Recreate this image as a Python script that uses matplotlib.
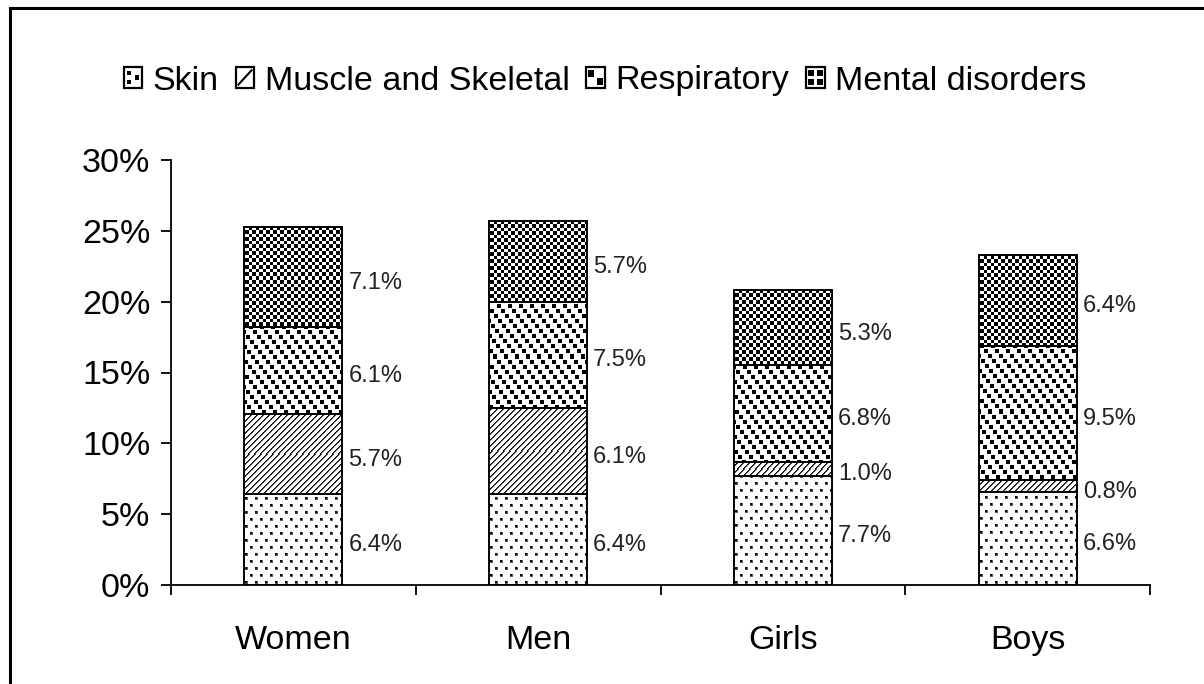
import numpy as np
import matplotlib
matplotlib.use("Agg")
import matplotlib.pyplot as plt
from matplotlib.patches import Rectangle
from matplotlib.lines import Line2D
from matplotlib.legend_handler import HandlerBase

plt.rcParams['font.family'] = ['Liberation Sans', 'DejaVu Sans']

categories = ["Women", "Men", "Girls", "Boys"]
series_names = ["Skin", "Muscle and Skeletal", "Respiratory", "Mental disorders"]
skin = [6.4, 6.4, 7.7, 6.6]
muscle = [5.7, 6.1, 1.0, 0.8]
respiratory = [6.1, 7.5, 6.8, 9.5]
mental = [7.1, 5.7, 5.3, 6.4]
series_values = [skin, muscle, respiratory, mental]
series_kinds = ["skin", "muscle", "resp", "mental"]
yticks = [0, 5, 10, 15, 20, 25, 30]
ytick_labels = ["0%", "5%", "10%", "15%", "20%", "25%", "30%"]

W_PX, H_PX = 1204, 684
fig = plt.figure(figsize=(W_PX / 100, H_PX / 100), dpi=100)
ax = fig.add_axes([171 / W_PX, 1 - 585 / H_PX, 979 / W_PX, 425 / H_PX])
ax.set_xlim(-0.5, len(categories) - 0.5)
ax.set_ylim(0, 30)


def texture(kind, gx, gy):
    gx, gy = np.meshgrid(gx, gy)
    val = np.ones(gx.shape)
    if kind == "skin":
        row = gy // 7
        xo = (gx + (row % 2) * 5) % 10
        yo = gy % 7
        val[(xo < 3) & (yo < 3)] = 0.35
        val[(xo == 1) & (yo == 1)] = 0.0
        val[(xo < 2) & (yo < 2)] = 0.05
    elif kind == "muscle":
        d = (gx + gy) % 6
        val[d == 0] = 0.0
        val[d == 1] = 0.35
    elif kind == "resp":
        band = gy // 5
        xo = (gx - band * 4) % 11
        val[(xo < 4) & (gy % 5 < 4)] = 0.0
    elif kind == "mental":
        cx = (gx * 2) // 7
        cy = (gy * 2) // 7
        val[(cx + cy) % 2 == 0] = 0.0
    return val


x = np.arange(len(categories))
bottom = np.zeros(len(categories))
width = 0.4
for vals, kind in zip(series_values, series_kinds):
    vals = np.array(vals, dtype=float)
    bars = ax.bar(x, vals, width, bottom=bottom, facecolor="none",
                  edgecolor="black", linewidth=1.4, zorder=3)
    for rect in bars:
        x0, y0 = rect.get_x(), rect.get_y()
        x1, y1 = x0 + rect.get_width(), y0 + rect.get_height()
        d = ax.transData.transform([(x0, y0), (x1, y1)])
        px0 = int(round(d[0, 0]))
        px1 = int(round(d[1, 0]))
        top = int(round(H_PX - d[1, 1]))
        bot = int(round(H_PX - d[0, 1]))
        arr = texture(kind, np.arange(px0, px1), np.arange(top, bot))
        ax.imshow(arr, extent=[x0, x1, y0, y1], cmap="gray", vmin=0, vmax=1,
                  interpolation="nearest", aspect="auto", zorder=2)
    for xi, b, v in zip(x, bottom, vals):
        ax.text(xi + width / 2 + 0.025, b + v / 2 - 0.4, f"{v:.1f}%",
                ha="left", va="center", fontsize=17, color="#222222")
    bottom = bottom + vals

ax.set_xlim(-0.5, len(categories) - 0.5)
ax.set_ylim(0, 30)

ax.set_yticks(yticks)
ax.set_yticklabels(ytick_labels)
ax.tick_params(axis="y", direction="out", length=7, width=1.3, pad=8,
               labelsize=24.5)
ax.set_xticks(x)
ax.set_xticklabels(categories)
ax.tick_params(axis="x", which="major", length=0, pad=29, labelsize=24.5)
ax.set_xticks(np.arange(-0.5, len(categories)), minor=True)
ax.tick_params(axis="x", which="minor", direction="out", length=7, width=1.3)

for s in ["top", "right"]:
    ax.spines[s].set_visible(False)
for s in ["left", "bottom"]:
    ax.spines[s].set_linewidth(1.3)


class PatternHandler(HandlerBase):
    def legend_artist(self, legend, orig_handle, fontsize, handlebox):
        kind = orig_handle._kind
        x0, y0 = -handlebox.xdescent, -handlebox.ydescent
        w, h = handlebox.width, handlebox.height
        t = handlebox.get_transform()
        arts = [Rectangle((x0, y0), w, h, fc="white", ec="black", lw=1.6,
                          transform=t)]
        s = 0.22
        if kind == "skin":
            pts = [(0.18, 0.6), (0.18, 0.18), (0.6, 0.4)]
            for px, py in pts:
                arts.append(Rectangle((x0 + px * w, y0 + py * h), s * w,
                                      s * h, fc="black", ec="none",
                                      transform=t))
        elif kind == "muscle":
            arts.append(Line2D([x0 + 0.15 * w, x0 + 0.85 * w],
                               [y0 + 0.15 * h, y0 + 0.85 * h], color="black",
                               lw=1.5, transform=t))
        elif kind == "resp":
            pts = [(0.08, 0.5), (0.55, 0.12)]
            for px, py in pts:
                arts.append(Rectangle((x0 + px * w, y0 + py * h), 0.35 * w,
                                      0.35 * h, fc="black", ec="none",
                                      transform=t))
        elif kind == "mental":
            pts = [(0.12, 0.12), (0.58, 0.12), (0.12, 0.58), (0.58, 0.58)]
            for px, py in pts:
                arts.append(Rectangle((x0 + px * w, y0 + py * h), 0.3 * w,
                                      0.3 * h, fc="black", ec="none",
                                      transform=t))
        for a in arts:
            handlebox.add_artist(a)
        return arts[0]


handles = []
for name, kind in zip(series_names, series_kinds):
    r = Rectangle((0, 0), 1, 1, label=name)
    r._kind = kind
    handles.append(r)

leg = fig.legend(handles=handles, labels=series_names, ncol=4, loc="center",
                 bbox_to_anchor=(605 / W_PX, 1 - 81 / H_PX), frameon=False,
                 fontsize=24.5, handlelength=0.55, handleheight=0.55,
                 handletextpad=0.3, columnspacing=0.5,
                 handler_map={Rectangle: PatternHandler()})

fig.add_artist(Line2D([9.5 / W_PX, 9.5 / W_PX], [0, 1 - 7.5 / H_PX],
                      transform=fig.transFigure, color="black", lw=2.2))
fig.add_artist(Line2D([9.5 / W_PX, 1], [1 - 7.5 / H_PX, 1 - 7.5 / H_PX],
                      transform=fig.transFigure, color="black", lw=2.2))

fig.savefig("out.png", dpi=100, facecolor="white")
